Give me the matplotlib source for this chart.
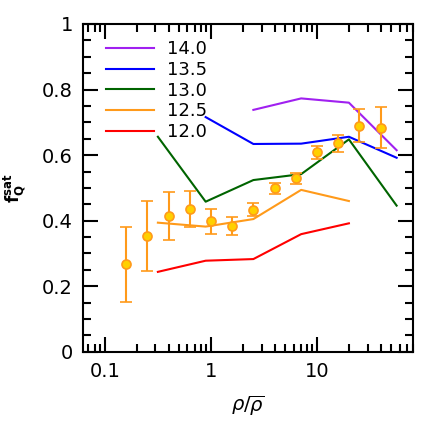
import matplotlib
matplotlib.use("Agg")
import matplotlib.pyplot as plt
from matplotlib.ticker import MultipleLocator, LogLocator, FixedLocator, NullFormatter

# Observed data points
obs_x = [0.158, 0.251, 0.398, 0.631, 1.0, 1.585, 2.51, 3.98, 6.31, 10.0, 15.85, 25.1, 39.8]
obs_y = [0.267, 0.354, 0.415, 0.436, 0.398, 0.384, 0.434, 0.499, 0.530, 0.609, 0.636, 0.690, 0.684]
obs_hi = [0.382, 0.460, 0.488, 0.492, 0.436, 0.412, 0.455, 0.516, 0.547, 0.628, 0.660, 0.740, 0.747]
obs_lo = [0.152, 0.248, 0.340, 0.380, 0.360, 0.356, 0.413, 0.482, 0.511, 0.589, 0.611, 0.639, 0.621]

# Model lines
line_x = [0.316, 0.891, 2.51, 7.08, 19.95, 56.2]
labels = ["14.0", "13.5", "13.0", "12.5", "12.0"]
colors = ["#a020f0", "#0000ff", "#006400", "#ff9a1a", "#ff0000"]
y140 = [None, None, 0.738, 0.773, 0.760, 0.615]
y135 = [None, 0.716, 0.634, 0.635, 0.656, 0.592]
y130 = [0.656, 0.458, 0.524, 0.542, 0.648, 0.446]
y125 = [0.394, 0.382, 0.405, 0.494, 0.460, None]
y120 = [0.244, 0.278, 0.283, 0.359, 0.392, None]
series = [y140, y135, y130, y125, y120]

plt.rcParams['font.family'] = ['DejaVu Sans']
fig = plt.figure(figsize=(4.36, 4.36), dpi=100)
ax = fig.add_axes([0.190, 0.193, 0.757, 0.752])

for lab, col, ys in zip(labels, colors, series):
    xs = [x for x, y in zip(line_x, ys) if y is not None]
    yv = [y for y in ys if y is not None]
    ax.plot(xs, yv, color=col, lw=1.5, label=lab)

yerr = [[y - l for y, l in zip(obs_y, obs_lo)], [h - y for y, h in zip(obs_y, obs_hi)]]
ax.errorbar(obs_x, obs_y, yerr=yerr, fmt='o', color='#ff9a1a', ecolor='#ff9a1a',
            mfc='#ffd000', mec='#ff9a1a', ms=6.5, mew=1.2, capsize=4, elinewidth=1.5,
            capthick=1.5, zorder=5)

ax.set_xscale('log')
ax.set_xlim(0.062, 80)
ax.set_ylim(0, 1)
ax.yaxis.set_major_locator(MultipleLocator(0.2))
ax.yaxis.set_minor_locator(MultipleLocator(0.05))
ax.xaxis.set_major_locator(FixedLocator([0.1, 1, 10]))
ax.xaxis.set_minor_locator(LogLocator(base=10, subs=range(2, 10)))
ax.xaxis.set_minor_formatter(NullFormatter())
ax.set_xticklabels(["0.1", "1", "10"])
ax.set_yticks([0, 0.2, 0.4, 0.6, 0.8, 1.0])
ax.set_yticklabels(["0", "0.2", "0.4", "0.6", "0.8", "1"])
ax.tick_params(which='both', direction='in', top=True, right=True, width=1.5, labelsize=14, pad=7)
ax.tick_params(which='major', length=11)
ax.tick_params(which='minor', length=5.5)
for s in ax.spines.values():
    s.set_linewidth(1.5)

ax.set_xlabel(r'$\rho/\overline{\rho}$', fontsize=14, labelpad=9)
ax.set_ylabel(r'$\mathbf{f_Q^{sat}}$', fontsize=12, labelpad=11)

leg = ax.legend(loc='upper left', frameon=False, fontsize=13, handlelength=2.7,
                handletextpad=0.7, labelspacing=0.15, borderaxespad=0.5,
                bbox_to_anchor=(0.02, 1.0))

fig.savefig('out.png', dpi=100)
